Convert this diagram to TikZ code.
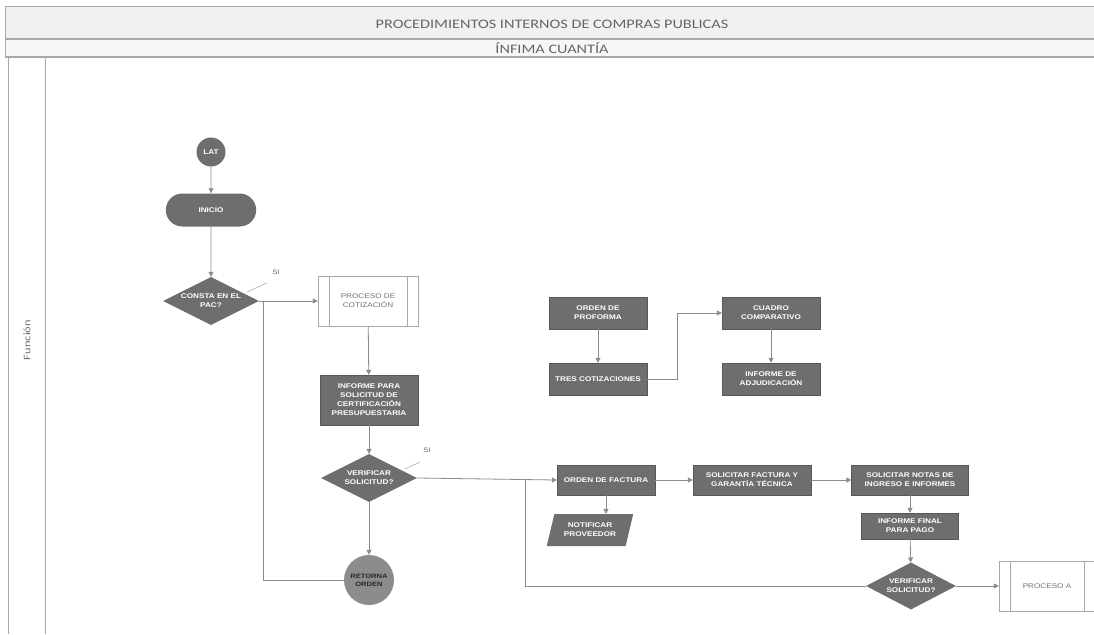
\documentclass[tikz,border=0pt]{standalone}
\usepackage{fontspec}
\setmainfont{Liberation Sans}
\newfontfamily\headfont[FakeStretch=1.25]{Carlito}
\newfontfamily\boxfont[FakeStretch=1.2]{Liberation Sans}
\usetikzlibrary{shapes.geometric,shapes.misc,arrows.meta}
\definecolor{boxgray}{HTML}{6E6E6E}
\definecolor{linegray}{HTML}{8C8C8C}
\definecolor{framegray}{HTML}{A8A8A8}
\definecolor{headfill}{HTML}{F1F1F1}
\tikzset{
  txt/.style={font=\boxfont\fontsize{6.8}{9}\selectfont\bfseries, text=white, align=center},
  dbox/.style={txt, draw=boxgray!80!black, fill=boxgray, inner sep=1pt, minimum width=98pt, minimum height=32pt},
  decision/.style={txt, diamond, aspect=2, fill=boxgray, inner sep=0pt, minimum width=96pt, minimum height=48pt},
  predef/.style={font=\boxfont\fontsize{6.8}{9}\selectfont, text=black!55, align=center, draw=framegray, fill=white, minimum width=100pt, minimum height=50pt, inner sep=1pt},
  flow/.style={draw=linegray, line width=0.8pt},
  arr/.style={flow, -{Triangle[width=5pt,length=5pt]}},
  leader/.style={draw=linegray, line width=0.4pt},
  silabel/.style={font=\boxfont\fontsize{6.5}{7}\selectfont, text=black!60},
}
\begin{document}
\begin{tikzpicture}[x=1pt,y=-1pt]
\useasboundingbox (0,0) rectangle (1094,634);
\fill[white] (0,0) rectangle (1094,634);

% header bands
\fill[headfill] (5,7) rectangle (1094,38);
\fill[headfill!60!white] (5,40) rectangle (1094,56);
\draw[framegray, line width=1pt] (5,7) -- (1094,7);
\draw[framegray, line width=1.2pt] (5,39) -- (1094,39);
\draw[framegray, line width=1.2pt] (5,57) -- (1094,57);
\draw[framegray, line width=0.6pt] (5,7) -- (5,57);
\node[font=\headfont\fontsize{13}{15}\selectfont, text=black!60] (title) at (552,24) {PROCEDIMIENTOS INTERNOS DE COMPRAS PUBLICAS};
\node[font=\headfont\fontsize{13}{15}\selectfont, text=black!60] (sub) at (552,48) {ÍNFIMA CUANTÍA};

% swimlane
\draw[framegray, line width=0.8pt] (8,57) -- (8,634);
\draw[framegray, line width=0.8pt] (45,57) -- (45,634);
\node[rotate=90, font=\headfont\fontsize{10}{11}\selectfont, text=black!55] (lane) at (27,340) {Función};

% start
\node[txt, circle, fill=boxgray, minimum size=29pt, inner sep=0pt] (lat) at (211,152) {LAT};
\node[txt, rounded rectangle, fill=boxgray, minimum width=97pt, minimum height=33pt] (inicio) at (211,210) {INICIO};
\node[decision] (pac) at (211,301) {CONSTA EN EL\\PAC?};
\node[predef] (cot) at (368,301) {PROCESO DE\\COTIZACIÓN};
\node[dbox, minimum height=50pt] (cert) at (369,400) {INFORME PARA\\SOLICITUD DE\\CERTIFICACIÓN\\PRESUPUESTARIA};
\node[decision] (ver1) at (369,478) {VERIFICAR\\SOLICITUD?};
\node[circle, fill=linegray, minimum size=50pt, inner sep=0pt, font=\boxfont\fontsize{6.3}{8}\selectfont\bfseries, text=black!85, align=center] (ret) at (369,580) {RETORNA\\ORDEN};

% quotation block
\node[dbox] (prof) at (598,313) {ORDEN DE\\PROFORMA};
\node[dbox] (tres) at (598,379) {TRES COTIZACIONES};
\node[dbox] (cuadro) at (771,313) {CUADRO\\COMPARATIVO};
\node[dbox] (adj) at (771,379) {INFORME DE\\ADJUDICACIÓN};

% invoice block
\node[dbox, minimum height=30pt] (fact) at (606,480) {ORDEN DE FACTURA};
\node[txt, trapezium, trapezium left angle=68, trapezium right angle=112, trapezium stretches=true, fill=boxgray, minimum width=87pt, minimum height=32pt, inner sep=0pt] (notif) at (590,530) {NOTIFICAR\\PROVEEDOR};
\node[dbox, minimum width=118pt, minimum height=30pt] (gar) at (752,480) {SOLICITAR FACTURA Y\\GARANTÍA TÉCNICA};
\node[dbox, minimum width=117pt, minimum height=30pt] (notas) at (910,480) {SOLICITAR NOTAS DE\\INGRESO E INFORMES};
\node[dbox, minimum width=97pt, minimum height=26pt] (final) at (910,526) {INFORME FINAL\\PARA PAGO};
\node[decision, minimum width=90pt, minimum height=47pt] (ver2) at (911,586) {VERIFICAR\\SOLICITUD?};
\node[predef, minimum width=96pt] (procA) at (1047,586) {PROCESO A};

% side bars of the predefined-process boxes
\foreach \p in {cot,procA}{
  \draw[framegray] ([xshift=11pt]\p.north west) -- ([xshift=11pt]\p.south west);
  \draw[framegray] ([xshift=-11pt]\p.north east) -- ([xshift=-11pt]\p.south east);
}

% connectors
\draw[arr] (lat) -- (inicio);
\draw[arr] (inicio) -- (pac);
\draw[arr] (pac.east) -- (cot.west);
\draw[flow] (pac.east) -| ([xshift=4pt]pac.east |- ret.west) -- (ret.west);
\draw[arr] (cot) -- (cert);
\draw[arr] (cert) -- (ver1);
\draw[arr] (ver1) -- (ret);
\draw[arr] (ver1.east) -- (fact.west);
\coordinate (split) at (525,480);
\draw[flow] (split) |- (ver2.west);
\draw[arr] (prof) -- (tres);
\draw[arr] (tres.east) -- ++(30,0) |- (cuadro.west);
\draw[arr] (cuadro) -- (adj);
\draw[arr] (fact) -- (fact |- notif.north);
\draw[arr] (fact) -- (gar);
\draw[arr] (gar) -- (notas);
\draw[arr] (notas) -- (final);
\draw[arr] (final) -- (ver2);
\draw[arr] (ver2) -- (procA);

% decision labels with their leader strokes
\node[silabel] (si1) at (276,272) {SI};
\node[silabel] (si2) at (427,450) {SI};
\coordinate (l1a) at (247,292);
\coordinate (l1b) at (267,283);
\coordinate (l2a) at (405,469);
\coordinate (l2b) at (420,462);
\draw[leader] (l1a) -- (l1b);
\draw[leader] (l2a) -- (l2b);
\end{tikzpicture}
\end{document}
